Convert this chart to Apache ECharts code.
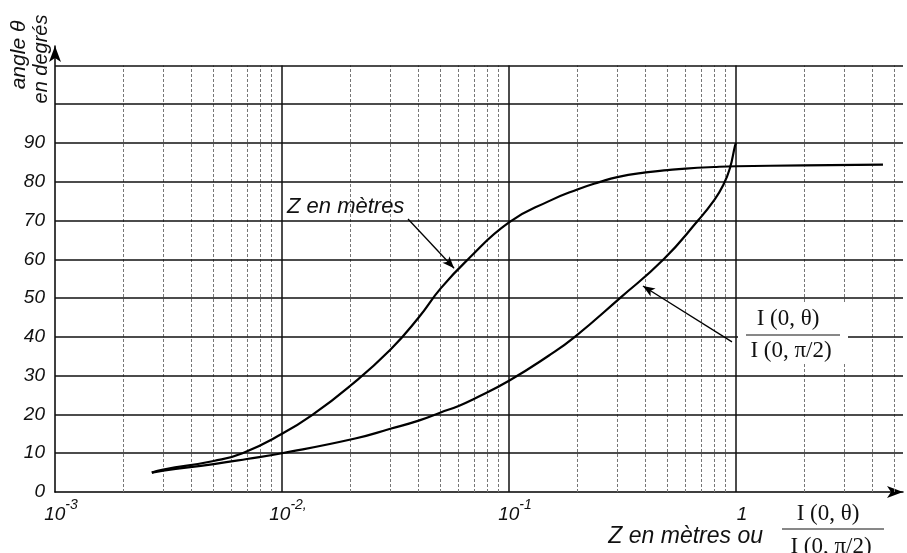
<!DOCTYPE html>
<html><head><meta charset="utf-8">
<script src="https://cdn.jsdelivr.net/npm/echarts@6/dist/echarts.min.js"></script>
<style>html,body{margin:0;padding:0;background:#fff}#c{width:907px;height:553px}</style>
</head><body><div id="c"></div>
<script>
// ---- data ----
const zMetresX = [0.00267, 0.003, 0.005, 0.0067, 0.01, 0.0137, 0.02, 0.03, 0.04, 0.05, 0.066, 0.1, 0.15, 0.2, 0.25, 0.3, 0.4, 0.5, 0.6, 0.8, 1, 2, 4.44];
const zMetresY = [5.0, 5.8, 8.0, 10.0, 15.0, 20.0, 27.4, 36.7, 45.0, 52.5, 60.0, 69.5, 75.0, 78.0, 79.9, 81.2, 82.4, 83.0, 83.4, 83.8, 84.0, 84.2, 84.4];
const ratioX = [0.00267, 0.003, 0.005, 0.007, 0.01, 0.021, 0.03, 0.04, 0.05, 0.06, 0.07, 0.1, 0.15, 0.195, 0.308, 0.48, 0.68, 0.8, 0.88, 0.94, 0.99, 1.0];
const ratioY = [5.0, 5.5, 7.2, 8.5, 10.0, 13.8, 16.3, 18.4, 20.5, 22.2, 24.0, 28.7, 35.2, 40.0, 50.0, 60.0, 70.0, 75.2, 79.2, 83.5, 89.3, 90.0];
const yTickLabels = [0, 10, 20, 30, 40, 50, 60, 70, 80, 90];
const xTickLabels = { '-3': '{m|10}{s|-3}', '-2': '{m|10}{s|-2,}', '-1': '{m|10}{s|-1}', '0': '{m|1}' };
const hGridValues = [10, 20, 30, 40, 50, 60, 70, 80, 90, 100, 110];
const decadeGridX = [0.01, 0.1, 1];
const minorGridX = [0.002, 0.003, 0.004, 0.005, 0.006, 0.007, 0.008, 0.009,
                    0.02, 0.03, 0.04, 0.05, 0.06, 0.07, 0.08, 0.09,
                    0.2, 0.3, 0.4, 0.5, 0.6, 0.7, 0.8, 0.9,
                    2, 3, 4, 5];
// annotation arrows in data coordinates [from, to]
const arrowZ = [[0.0359, 70.4], [0.0573, 57.7]];
const arrowRatio = [[0.96, 38.7], [0.389, 53.1]];

const X_MIN = 0.001, X_MAX = 5.44, Y_MAX = 115, Y_TOP = 110;
const FONT = 'Liberation Sans';
const SERIF = 'Liberation Serif';
const pairs = (xs, ys) => xs.map((x, i) => [x, ys[i]]);
const txt = (text, x, y, o) => ({
  type: 'text', x, y, z: 10, rotation: o.rot || 0,
  style: Object.assign({ text, fill: '#111', textAlign: 'center', textVerticalAlign: 'middle',
    fontFamily: o.serif ? SERIF : FONT, fontStyle: o.serif ? 'normal' : 'italic', fontSize: o.size }, o.style || {})
});

const chart = echarts.init(document.getElementById('c'));
chart.setOption({
  animation: false,
  backgroundColor: '#fff',
  grid: { left: 55, right: 4, top: 46, bottom: 61 },
  xAxis: {
    type: 'log', logBase: 10, min: X_MIN, max: X_MAX,
    axisLine: { show: true, lineStyle: { color: '#000', width: 1.5 }, symbol: ['none', 'arrow'], symbolSize: [9, 16] },
    axisTick: { show: false },
    splitLine: { show: false },
    axisLabel: {
      margin: 6, showMaxLabel: false,
      formatter: v => {
        const l = Math.log10(v), e = Math.round(l);
        if (Math.abs(l - e) > 1e-6) return '';
        return xTickLabels[String(e)] || '';
      },
      rich: {
        m: { fontSize: 19, fontStyle: 'italic', fontFamily: FONT, color: '#111', lineHeight: 26, verticalAlign: 'bottom', padding: [0, 0, 0, 12] },
        s: { fontSize: 14, fontStyle: 'italic', fontFamily: FONT, color: '#111', lineHeight: 13, verticalAlign: 'top' }
      }
    }
  },
  yAxis: {
    type: 'value', min: 0, max: Y_MAX, interval: 10,
    axisLine: { show: true, lineStyle: { color: '#000', width: 1.5 }, symbol: ['none', 'arrow'], symbolSize: [9, 16] },
    axisTick: { show: false },
    splitLine: { show: false },
    axisLabel: {
      margin: 10, fontSize: 19, fontStyle: 'italic', fontFamily: FONT, color: '#111',
      formatter: v => yTickLabels.indexOf(v) >= 0 ? String(v) : ''
    }
  },
  series: [
    {
      name: 'gridMinor', type: 'line', data: [], silent: true,
      markLine: {
        silent: true, symbol: ['none', 'none'], label: { show: false },
        lineStyle: { color: '#777', width: 1, type: [3, 2] },
        data: minorGridX.map(v => [{ coord: [v, 0] }, { coord: [v, Y_TOP] }])
      }
    },
    {
      name: 'gridMajor', type: 'line', data: [], silent: true,
      markLine: {
        silent: true, symbol: ['none', 'none'], label: { show: false },
        lineStyle: { color: '#111', width: 1.5, type: 'solid' },
        data: decadeGridX.map(v => [{ coord: [v, 0] }, { coord: [v, Y_TOP] }])
          .concat(hGridValues.map(v => [{ coord: [X_MIN, v] }, { coord: [X_MAX, v] }]))
      }
    },
    {
      name: 'Z en mètres', type: 'line', data: pairs(zMetresX, zMetresY),
      showSymbol: false, smooth: 0.5,
      lineStyle: { color: '#000', width: 2.2 }, z: 5,
      markLine: {
        silent: true, symbol: ['none', 'arrow'], symbolSize: [7, 12], label: { show: false },
        lineStyle: { color: '#000', width: 1.3, type: 'solid' },
        data: [[{ coord: arrowZ[0] }, { coord: arrowZ[1] }]]
      }
    },
    {
      name: 'I(0,θ)/I(0,π/2)', type: 'line', data: pairs(ratioX, ratioY),
      showSymbol: false, smooth: 0.5,
      lineStyle: { color: '#000', width: 2.2 }, z: 5,
      markLine: {
        silent: true, symbol: ['none', 'arrow'], symbolSize: [7, 12], label: { show: false },
        lineStyle: { color: '#000', width: 1.3, type: 'solid' },
        data: [[{ coord: arrowRatio[0] }, { coord: arrowRatio[1] }]]
      }
    }
  ],
  graphic: [
    // y axis title
    txt('angle θ', 19, 55, { size: 21, rot: Math.PI / 2 }),
    txt('en degrés', 41, 59, { size: 20, rot: Math.PI / 2 }),
    // curve label
    txt('Z en mètres', 287, 207, { size: 22, style: { textAlign: 'left' } }),
    // fraction label inside plot
    { type: 'rect', shape: { x: 738, y: 302, width: 110, height: 62 }, z: 8, style: { fill: '#fff' } },
    txt('I (0, θ)', 788, 319, { size: 23, serif: true }),
    { type: 'line', z: 10, shape: { x1: 746, y1: 335, x2: 840, y2: 335 }, style: { stroke: '#111', lineWidth: 1 } },
    txt('I (0, π/2)', 791, 351, { size: 23, serif: true }),
    // x axis title
    txt('Z en mètres ou', 763, 537, { size: 23, style: { textAlign: 'right' } }),
    txt('I (0, θ)', 828, 514, { size: 23, serif: true }),
    { type: 'line', z: 10, shape: { x1: 782, y1: 529, x2: 884, y2: 529 }, style: { stroke: '#111', lineWidth: 1 } },
    txt('I (0, π/2)', 831, 547, { size: 23, serif: true })
  ]
});
</script>
</body></html>
